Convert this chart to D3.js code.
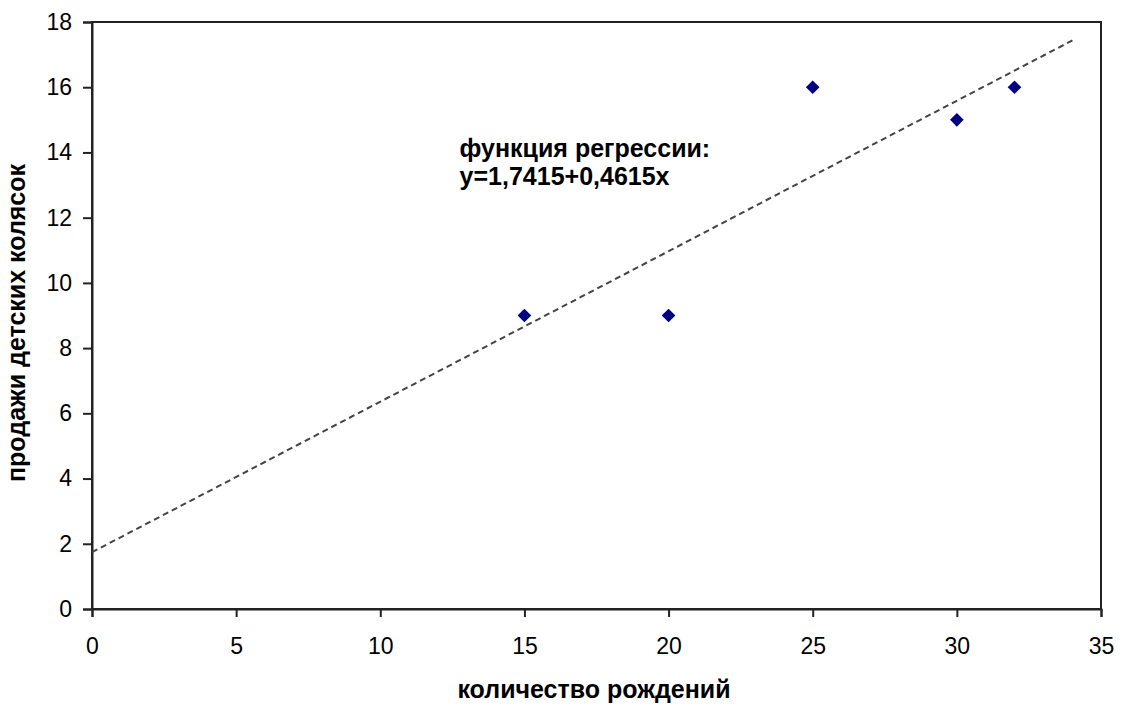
<!DOCTYPE html>
<html>
<head>
<meta charset="utf-8">
<script src="https://cdn.jsdelivr.net/npm/d3@7"></script>
<style>
  body { margin: 0; background: #fff; }
  text { font-family: "Liberation Sans", Arial, sans-serif; }
</style>
</head>
<body>
<svg id="chart" width="1122" height="708"></svg>
<script>
// data
const births = [15, 20, 25, 30, 32];
const sales = [9, 9, 16, 15, 16];
const xTicks = [0, 5, 10, 15, 20, 25, 30, 35];
const yTicks = [0, 2, 4, 6, 8, 10, 12, 14, 16, 18];
const intercept = 1.7415;
const slope = 0.4615;
const trendRange = [0, 34.1];
const annotation = ['функция регрессии:', 'y=1,7415+0,4615x'];

const margin = { top: 22, right: 21, bottom: 99, left: 92 };
const width = 1122, height = 708;
const innerW = width - margin.left - margin.right;
const innerH = height - margin.top - margin.bottom;

const svg = d3.select('#chart');
const g = svg.append('g').attr('transform', `translate(${margin.left},${margin.top})`);

const x = d3.scaleLinear().domain([0, 35]).range([0, innerW]);
const y = d3.scaleLinear().domain([0, 18]).range([innerH, 0]);

// frame
g.append('rect')
  .attr('width', innerW).attr('height', innerH)
  .attr('fill', 'none').attr('stroke', '#222').attr('stroke-width', 2);

// axes
const xAxis = g.append('g')
  .attr('transform', `translate(0,${innerH})`)
  .call(d3.axisBottom(x).tickValues(xTicks).tickSize(8).tickFormat(d3.format('d')));
const yAxis = g.append('g')
  .call(d3.axisLeft(y).tickValues(yTicks).tickSize(9).tickPadding(11).tickFormat(d3.format('d')));

[xAxis, yAxis].forEach(a => {
  a.select('.domain').attr('stroke', '#222').attr('stroke-width', 2);
  a.selectAll('.tick line').attr('stroke', '#222').attr('stroke-width', 2);
  a.selectAll('.tick text')
    .attr('font-size', 23).attr('fill', '#000')
    .attr('font-family', '"Liberation Sans", Arial, sans-serif');
});
// baseline of x tick labels about 45px under the axis
xAxis.selectAll('.tick text').attr('y', 45).attr('dy', 0);

// trend line
const line = d3.line().x(d => x(d)).y(d => y(intercept + slope * d));
g.append('path')
  .datum(trendRange)
  .attr('d', line)
  .attr('fill', 'none')
  .attr('stroke', '#444')
  .attr('stroke-width', 2)
  .attr('stroke-dasharray', '6,4');

// points
const diamond = d3.symbol(d3.symbolDiamond2, 118);
g.selectAll('.pt')
  .data(births.map((b, i) => [b, sales[i]]))
  .enter()
  .append('path')
  .attr('class', 'pt')
  .attr('d', diamond)
  .attr('transform', d => `translate(${x(d[0])},${y(d[1])})`)
  .attr('fill', '#000080');

// annotation
const ann = g.append('text')
  .attr('x', x(12.75))
  .attr('y', 157 - margin.top)
  .attr('font-size', 25)
  .attr('font-weight', 'bold')
  .attr('fill', '#000');
ann.selectAll('tspan')
  .data(annotation)
  .enter()
  .append('tspan')
  .attr('x', x(12.75))
  .attr('dy', (d, i) => i === 0 ? 0 : 28)
  .text(d => d);

// axis titles
svg.append('text')
  .attr('x', 594)
  .attr('y', 698)
  .attr('text-anchor', 'middle')
  .attr('font-size', 25)
  .attr('font-weight', 'bold')
  .text('количество рождений');

svg.append('text')
  .attr('transform', `translate(25,323) rotate(-90)`)
  .attr('text-anchor', 'middle')
  .attr('font-size', 25)
  .attr('font-weight', 'bold')
  .text('продажи детских колясок');
</script>
</body>
</html>
